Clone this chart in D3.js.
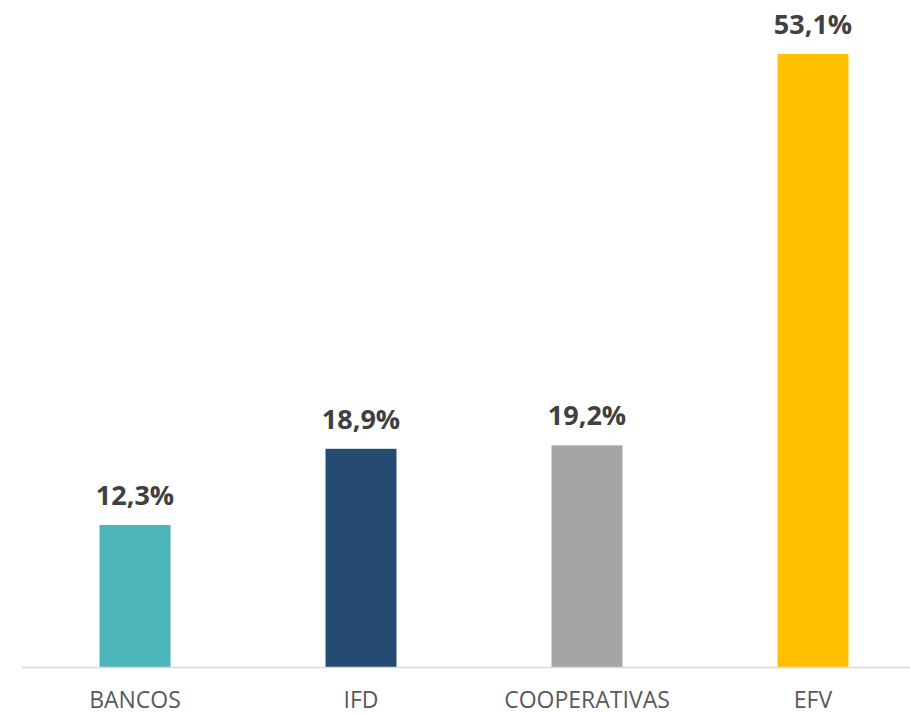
<!DOCTYPE html>
<html>
<head>
<meta charset="utf-8">
<script src="https://cdn.jsdelivr.net/npm/d3@7"></script>
<style>
  body { margin: 0; background: #fff; }
  svg { display: block; }
</style>
</head>
<body>
<svg id="chart" width="910" height="713"></svg>
<script>
// Chart data
var categories = ["BANCOS", "IFD", "COOPERATIVAS", "EFV"];
var values = [12.3, 18.9, 19.2, 53.1];
var colors = ["#4bb5ba", "#254b72", "#a5a5a5", "#ffc000"];

var svg = d3.select("#chart");

var x = d3.scaleBand()
    .domain(categories)
    .range([22, 926])
    .paddingInner(0.686)
    .paddingOuter(0.343);

var y = d3.scaleLinear()
    .domain([0, 53.1])
    .range([667, 54]);

// Bars
svg.selectAll(".bar")
    .data(values)
    .enter()
    .append("rect")
    .attr("class", "bar")
    .attr("x", (d, i) => x(categories[i]))
    .attr("y", d => y(d))
    .attr("width", x.bandwidth())
    .attr("height", d => y(0) - y(d))
    .style("fill", (d, i) => colors[i]);

// Baseline
svg.append("line")
    .attr("x1", 22)
    .attr("x2", 910)
    .attr("y1", y(0) + 0.5)
    .attr("y2", y(0) + 0.5)
    .style("stroke", "#d9d9d9")
    .style("stroke-width", 1.5);

// Value labels
svg.selectAll(".value-label")
    .data(values)
    .enter()
    .append("text")
    .attr("class", "value-label")
    .attr("x", (d, i) => x(categories[i]) + x.bandwidth() / 2)
    .attr("y", d => y(d) - 20)
    .attr("text-anchor", "middle")
    .style("font-family", "'Open Sans', sans-serif")
    .style("font-weight", "bold")
    .style("font-size", "27px")
    .style("fill", "#404040")
    .text(d => d3.format(".1f")(d).replace(".", ",") + "%");

// Category axis labels
svg.selectAll(".cat-label")
    .data(categories)
    .enter()
    .append("text")
    .attr("class", "cat-label")
    .attr("x", d => x(d) + x.bandwidth() / 2)
    .attr("y", 708)
    .attr("text-anchor", "middle")
    .style("font-family", "'Open Sans', sans-serif")
    .style("font-size", "23px")
    .style("fill", "#595959")
    .text(d => d);
</script>
</body>
</html>
